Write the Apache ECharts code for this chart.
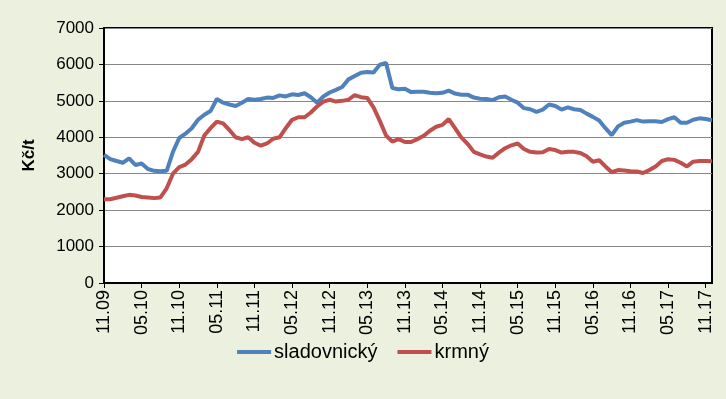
<!DOCTYPE html>
<html>
<head>
<meta charset="utf-8">
<script src="https://cdn.jsdelivr.net/npm/echarts@6/dist/echarts.min.js"></script>
<style>
html,body{margin:0;padding:0;background:#EBF1DE;}
#c{width:726px;height:399px;}
</style>
</head>
<body>
<div id="c"></div>
<script>
const categories = [
"11.09","12.09","01.10","02.10","03.10","04.10","05.10","06.10","07.10","08.10","09.10","10.10",
"11.10","12.10","01.11","02.11","03.11","04.11","05.11","06.11","07.11","08.11","09.11","10.11",
"11.11","12.11","01.12","02.12","03.12","04.12","05.12","06.12","07.12","08.12","09.12","10.12",
"11.12","12.12","01.13","02.13","03.13","04.13","05.13","06.13","07.13","08.13","09.13","10.13",
"11.13","12.13","01.14","02.14","03.14","04.14","05.14","06.14","07.14","08.14","09.14","10.14",
"11.14","12.14","01.15","02.15","03.15","04.15","05.15","06.15","07.15","08.15","09.15","10.15",
"11.15","12.15","01.16","02.16","03.16","04.16","05.16","06.16","07.16","08.16","09.16","10.16",
"11.16","12.16","01.17","02.17","03.17","04.17","05.17","06.17","07.17","08.17","09.17","10.17",
"11.17","12.17"
];
const sladovnicky = [
3520,3400,3350,3300,3420,3240,3280,3130,3080,3070,3080,3600,
3980,4100,4250,4480,4620,4720,5050,4950,4900,4860,4950,5050,
5030,5050,5090,5080,5150,5120,5180,5160,5210,5100,4950,5120,
5230,5300,5380,5590,5680,5770,5790,5780,5990,6040,5350,5320,
5330,5240,5250,5250,5220,5210,5220,5280,5200,5170,5170,5090,
5060,5050,5020,5100,5120,5030,4950,4800,4770,4700,4760,4900,
4860,4760,4820,4770,4750,4650,4560,4460,4250,4060,4300,4400,
4430,4470,4430,4440,4440,4420,4500,4550,4400,4400,4480,4520,
4500,4470
];
const krmny = [
2300,2300,2340,2380,2420,2400,2360,2350,2330,2350,2600,3000,
3180,3250,3400,3600,4050,4250,4430,4380,4200,4000,3950,4000,
3850,3770,3830,3960,4000,4250,4480,4550,4550,4680,4850,4980,
5030,4980,5000,5030,5160,5100,5080,4820,4450,4050,3880,3950,
3870,3870,3950,4040,4180,4290,4340,4500,4250,4000,3820,3600,
3530,3470,3440,3580,3700,3780,3830,3680,3600,3580,3590,3680,
3650,3580,3600,3600,3570,3480,3330,3370,3200,3040,3100,3090,
3070,3060,3020,3100,3200,3350,3400,3380,3300,3200,3330,3350,
3350,3340
];
const yTicks = [0,1000,2000,3000,4000,5000,6000,7000];

const chart = echarts.init(document.getElementById('c'), null, {renderer:'canvas'});
const font = 'Liberation Sans';
chart.setOption({
  backgroundColor:'#EBF1DE',
  animation:false,
  grid:{left:104, right:14, top:28, bottom:116, show:true, backgroundColor:'#fff', borderColor:'#000', borderWidth:2},
  legend:{
    data:['sladovnický','krmný'],
    left:'center', top:337,
    icon:'rect', itemWidth:34, itemHeight:4, itemGap:20,
    textStyle:{fontFamily:font, fontSize:20, color:'#000', padding:[0,0,0,-2]}
  },
  xAxis:{
    type:'category', data:categories, boundaryGap:false,
    axisLine:{lineStyle:{color:'#000', width:2}},
    axisTick:{show:true, interval:5, length:5, lineStyle:{color:'#000'}},
    axisLabel:{interval:5, rotate:90, fontFamily:font, fontSize:18, color:'#000', margin:7}
  },
  yAxis:{
    type:'value', min:0, max:7000, interval:1000,
    name:'Kč/t', nameLocation:'middle', nameRotate:90, nameGap:66,
    nameTextStyle:{fontFamily:font, fontSize:17, fontWeight:'bold', color:'#000'},
    axisLine:{show:true, lineStyle:{color:'#000', width:2}},
    axisTick:{show:true, length:5, lineStyle:{color:'#000'}},
    axisLabel:{fontFamily:font, fontSize:17, color:'#000', margin:10,
      formatter:(v)=> yTicks.includes(v) ? String(v) : ''},
    splitLine:{lineStyle:{color:'#868686', width:1}}
  },
  series:[
    {name:'sladovnický', type:'line', data:sladovnicky, showSymbol:false, color:'#4F81BD', lineStyle:{width:4, color:'#4F81BD'}},
    {name:'krmný', type:'line', data:krmny, showSymbol:false, color:'#C0504D', lineStyle:{width:4, color:'#C0504D'}}
  ]
});
</script>
</body>
</html>
